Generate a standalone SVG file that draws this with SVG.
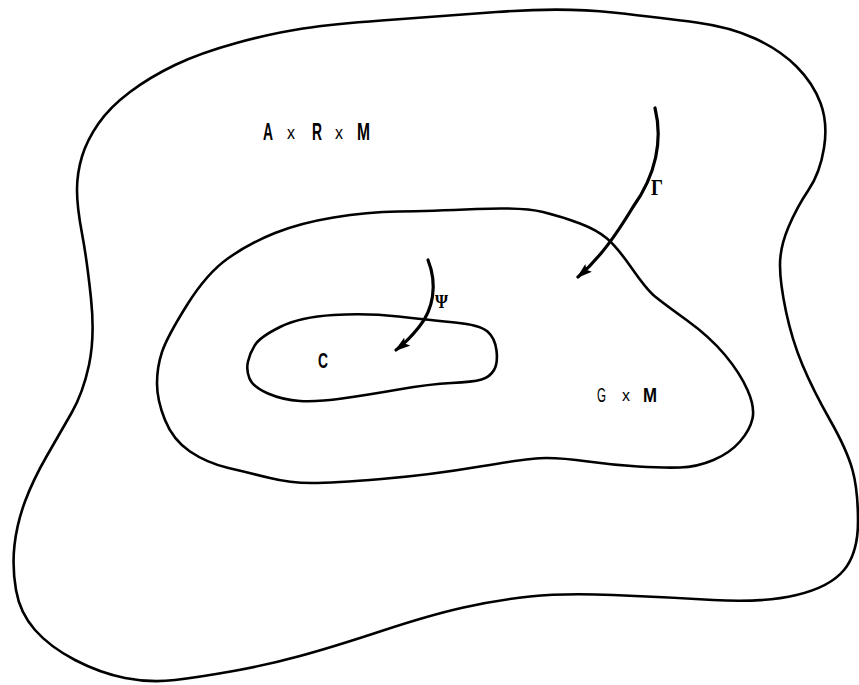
<svg xmlns="http://www.w3.org/2000/svg" width="859" height="685" viewBox="0 0 859 685">
<style>
.region{fill:none;stroke:#000;stroke-width:2.6;stroke-linejoin:round;stroke-linecap:round}
.flow{fill:none;stroke:#000;stroke-width:3.2;stroke-linecap:round}
.lbl{font-family:"Liberation Sans",Arial,sans-serif;fill:#000}
.b{font-weight:bold}
.greek{font-family:"Liberation Serif","Times New Roman",serif;fill:#000;font-weight:bold}
</style>
<defs>
<marker id="head" viewBox="0 0 16 10" refX="14" refY="5" markerWidth="16" markerHeight="10" markerUnits="userSpaceOnUse" orient="auto">
<path d="M0,0 L16,5 L0,10 L3,5 Z" fill="#000"/>
</marker>
</defs>
<rect width="859" height="685" fill="#fff"/>
<g id="outer">
<path class="region" d="M 98.5,123.5 Q 110,107 130,92 Q 150,77 175,65 Q 200,53 236.5,43 Q 273,33 303,28.5 Q 333,24 381.5,20.5 Q 430,17 496.5,12 Q 563,7 613,12.5 Q 663,18 696.5,22.5 Q 730,27 755,38.5 Q 780,50 796.5,66.5 Q 813,83 820.5,103 Q 828,123 824,148 Q 820,173 808.5,190 Q 797,207 788.5,227 Q 780,247 780,265 Q 780,283 786,311.5 Q 792,340 802.5,365 Q 813,390 830,420 Q 847,450 852.5,470 Q 858,490 858,521.5 Q 858,553 844,570 Q 830,587 796.5,595 Q 763,603 713,600 Q 663,597 613,595 Q 563,593 530,596.5 Q 497,600 463.5,607.5 Q 430,615 381.5,631 Q 333,647 300,656 Q 267,665 233.5,671 Q 200,677 175,680 Q 150,683 125,678 Q 100,673 75,660 Q 50,647 35,630 Q 20,613 16,590 Q 12,567 14.5,545 Q 17,523 25,501.5 Q 33,480 46.5,456.5 Q 60,433 71.5,413 Q 83,393 89,365 Q 95,337 91,298.5 Q 87,260 82,233.5 Q 77,207 77,190 Q 77,173 82,156.5 Q 87,140 98.5,123.5 Z"/>
<text class="lbl b" x="263" y="140" font-size="24" textLength="10" lengthAdjust="spacingAndGlyphs">A</text>
<text class="lbl" x="287" y="139" font-size="19" textLength="8" lengthAdjust="spacingAndGlyphs">x</text>
<text class="lbl b" x="312" y="140" font-size="24" textLength="10" lengthAdjust="spacingAndGlyphs">R</text>
<text class="lbl" x="335" y="139" font-size="19" textLength="8" lengthAdjust="spacingAndGlyphs">x</text>
<text class="lbl b" x="357" y="140" font-size="24" textLength="13" lengthAdjust="spacingAndGlyphs">M</text>
</g>
<g id="middle">
<path class="region" d="M 162,352 Q 167,337 187,305 Q 207,273 228.5,258 Q 250,243 275,233 Q 300,223 333.5,217.5 Q 367,212 398.5,211.5 Q 430,211 476.5,209 Q 523,207 543,212 Q 563,217 580,223.5 Q 597,230 607,238.5 Q 617,247 632,268.5 Q 647,290 655,296.5 Q 663,303 686.5,320 Q 710,337 725,355 Q 740,373 747.5,390 Q 755,407 752.5,418.5 Q 750,430 740,441.5 Q 730,453 713.5,460 Q 697,467 680,467.5 Q 663,468 638,466.5 Q 613,465 588,461.5 Q 563,458 546.5,458 Q 530,458 480,466.5 Q 430,475 381.5,479 Q 333,483 311.5,483 Q 290,483 270,478 Q 250,473 228.5,468 Q 207,463 190,451.5 Q 173,440 165,420 Q 157,400 157,383.5 Q 157,367 162,352 Z"/>
<text class="lbl" x="597" y="402" font-size="21" textLength="9" lengthAdjust="spacingAndGlyphs">G</text>
<text class="lbl" x="622" y="401" font-size="17" textLength="8" lengthAdjust="spacingAndGlyphs">x</text>
<text class="lbl b" x="643" y="402" font-size="21" textLength="14" lengthAdjust="spacingAndGlyphs">M</text>
</g>
<g id="inner">
<path class="region" d="M 255,345 Q 260,337 280,327 Q 300,317 333.5,315 Q 367,313 398.5,316.5 Q 430,320 455,322.5 Q 480,325 487.5,331.5 Q 495,338 496.5,350.5 Q 498,363 494,370 Q 490,377 481.5,379.5 Q 473,382 451.5,383 Q 430,384 398.5,389.5 Q 367,395 342,398.5 Q 317,402 300,401 Q 283,400 268,393.5 Q 253,387 249.5,378.5 Q 246,370 248,361.5 Q 250,353 255,345 Z"/>
<text class="lbl b" x="318" y="368" font-size="22" textLength="10" lengthAdjust="spacingAndGlyphs">C</text>
</g>
<g id="connectors">
<path class="flow" marker-end="url(#head)" d="M 655,108 C 663,140 656,175 633,207 C 616,235 600,258 578,277"/>
<path class="flow" marker-end="url(#head)" d="M 428,260 C 438,285 433,310 419,327 C 411,337 404,344 396,350"/>
<text class="greek" x="651" y="195" font-size="24" textLength="12" lengthAdjust="spacingAndGlyphs">Γ</text>
<text class="greek" x="435" y="308" font-size="18" textLength="13" lengthAdjust="spacingAndGlyphs">Ψ</text>
</g>
</svg>
